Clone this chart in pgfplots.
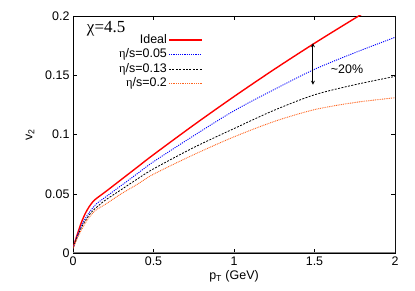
\documentclass[border=0pt]{standalone}
\usepackage{fontspec}
\setmainfont{Liberation Sans}
\newfontfamily\serifgreek{Liberation Serif}
\usepackage{pgfplots}
\pgfplotsset{compat=1.18}
\pgfplotsset{legend image code/.code={\draw[#1] (0cm,0cm) -- (1.15cm,0cm);}}
\definecolor{myorange}{RGB}{255,100,30}
\newcommand{\lf}{\fontsize{12.5}{14}\selectfont}
\begin{document}
\begin{tikzpicture}
\begin{axis}[
  at={(0,0)}, anchor=south west,
  scale only axis, width=322bp, height=237bp,
  xmin=0, xmax=2, ymin=0, ymax=0.2,
  xtick={0,0.5,1,1.5,2}, ytick={0,0.05,0.1,0.15,0.2},
  xticklabels={0,0.5,1,1.5,2}, yticklabels={0,0.05,0.1,0.15,0.2},
  tick align=inside, major tick length=4bp,
  tick style={black, line width=0.4pt},
  axis line style={line width=0.6pt},
  ticklabel style={font=\lf},
  /pgf/number format/assume math mode=true,
  xlabel={p\textsubscript{T} (GeV)},
  ylabel={v\textsubscript{2}},
  label style={font=\lf},
  xlabel style={yshift=2bp},
  ylabel style={yshift=4bp},
  clip=true,
  legend style={draw=none, fill=none, at={(axis cs:0.805,0.186)}, anchor=north east,
    font=\lf, row sep=0pt, inner sep=0pt,
    nodes={text height=9bp, text depth=2.5bp, inner sep=1.5bp}},
  legend cell align=right,
  legend plot pos=right,
]
\addplot[red, line width=1.4pt, smooth] coordinates {
(0,0.004) (0.025,0.015) (0.05,0.025) (0.075,0.033) (0.1,0.039) (0.125,0.0435)
(0.15,0.0465) (0.2,0.0515) (0.3,0.062) (0.4,0.0725) (0.5,0.083) (0.75,0.108)
(1.0,0.132) (1.25,0.155) (1.5,0.177) (1.75,0.198) (1.85,0.206)};
\addlegendentry{\lf Ideal}
\addplot[blue, line width=0.9pt, dash pattern=on 1.1pt off 1.1pt, smooth] coordinates {
(0,0.004) (0.025,0.014) (0.05,0.022) (0.075,0.029) (0.1,0.034) (0.125,0.0385)
(0.15,0.042) (0.2,0.047) (0.3,0.057) (0.4,0.067) (0.5,0.077) (0.75,0.099)
(1.0,0.120) (1.25,0.138) (1.5,0.155) (1.75,0.169) (2.0,0.182)};
\addlegendentry{\lf{\serifgreek η}/s=0.05}
\addplot[black, line width=0.8pt, dash pattern=on 2pt off 1.4pt, smooth] coordinates {
(0,0.004) (0.025,0.013) (0.05,0.021) (0.075,0.027) (0.1,0.032) (0.125,0.036)
(0.15,0.039) (0.2,0.0445) (0.3,0.0535) (0.4,0.0625) (0.5,0.071) (0.75,0.089)
(1.0,0.105) (1.25,0.1205) (1.5,0.1335) (1.75,0.142) (2.0,0.149)};
\addlegendentry{\lf{\serifgreek η}/s=0.13}
\addplot[myorange, line width=0.9pt, dash pattern=on 0.9pt off 0.9pt, smooth] coordinates {
(0,0.004) (0.025,0.012) (0.05,0.019) (0.075,0.025) (0.1,0.030) (0.125,0.034)
(0.15,0.037) (0.2,0.041) (0.3,0.050) (0.4,0.058) (0.5,0.0665) (0.75,0.083)
(1.0,0.098) (1.25,0.111) (1.5,0.121) (1.75,0.127) (2.0,0.131)};
\addlegendentry{\lf{\serifgreek η}/s=0.2}
\draw[gray, line width=1.3pt] (rel axis cs:0,0) -- (rel axis cs:1,0);
\draw[gray, line width=0.6pt] (rel axis cs:1,0) -- (rel axis cs:1,1);
\draw[<->, >=stealth, line width=0.8pt] (axis cs:1.49,0.177) -- (axis cs:1.49,0.142);
\node[anchor=west, font=\lf] at (axis cs:1.58,0.155) {\textasciitilde20\%};
\node[anchor=west, font=\serifgreek\fontsize{17}{19}\selectfont] at (axis cs:0.065,0.189) {χ=4.5};
\end{axis}
\path[use as bounding box] (-73bp,-38bp) rectangle (342bp,253bp);
\end{tikzpicture}
\end{document}
